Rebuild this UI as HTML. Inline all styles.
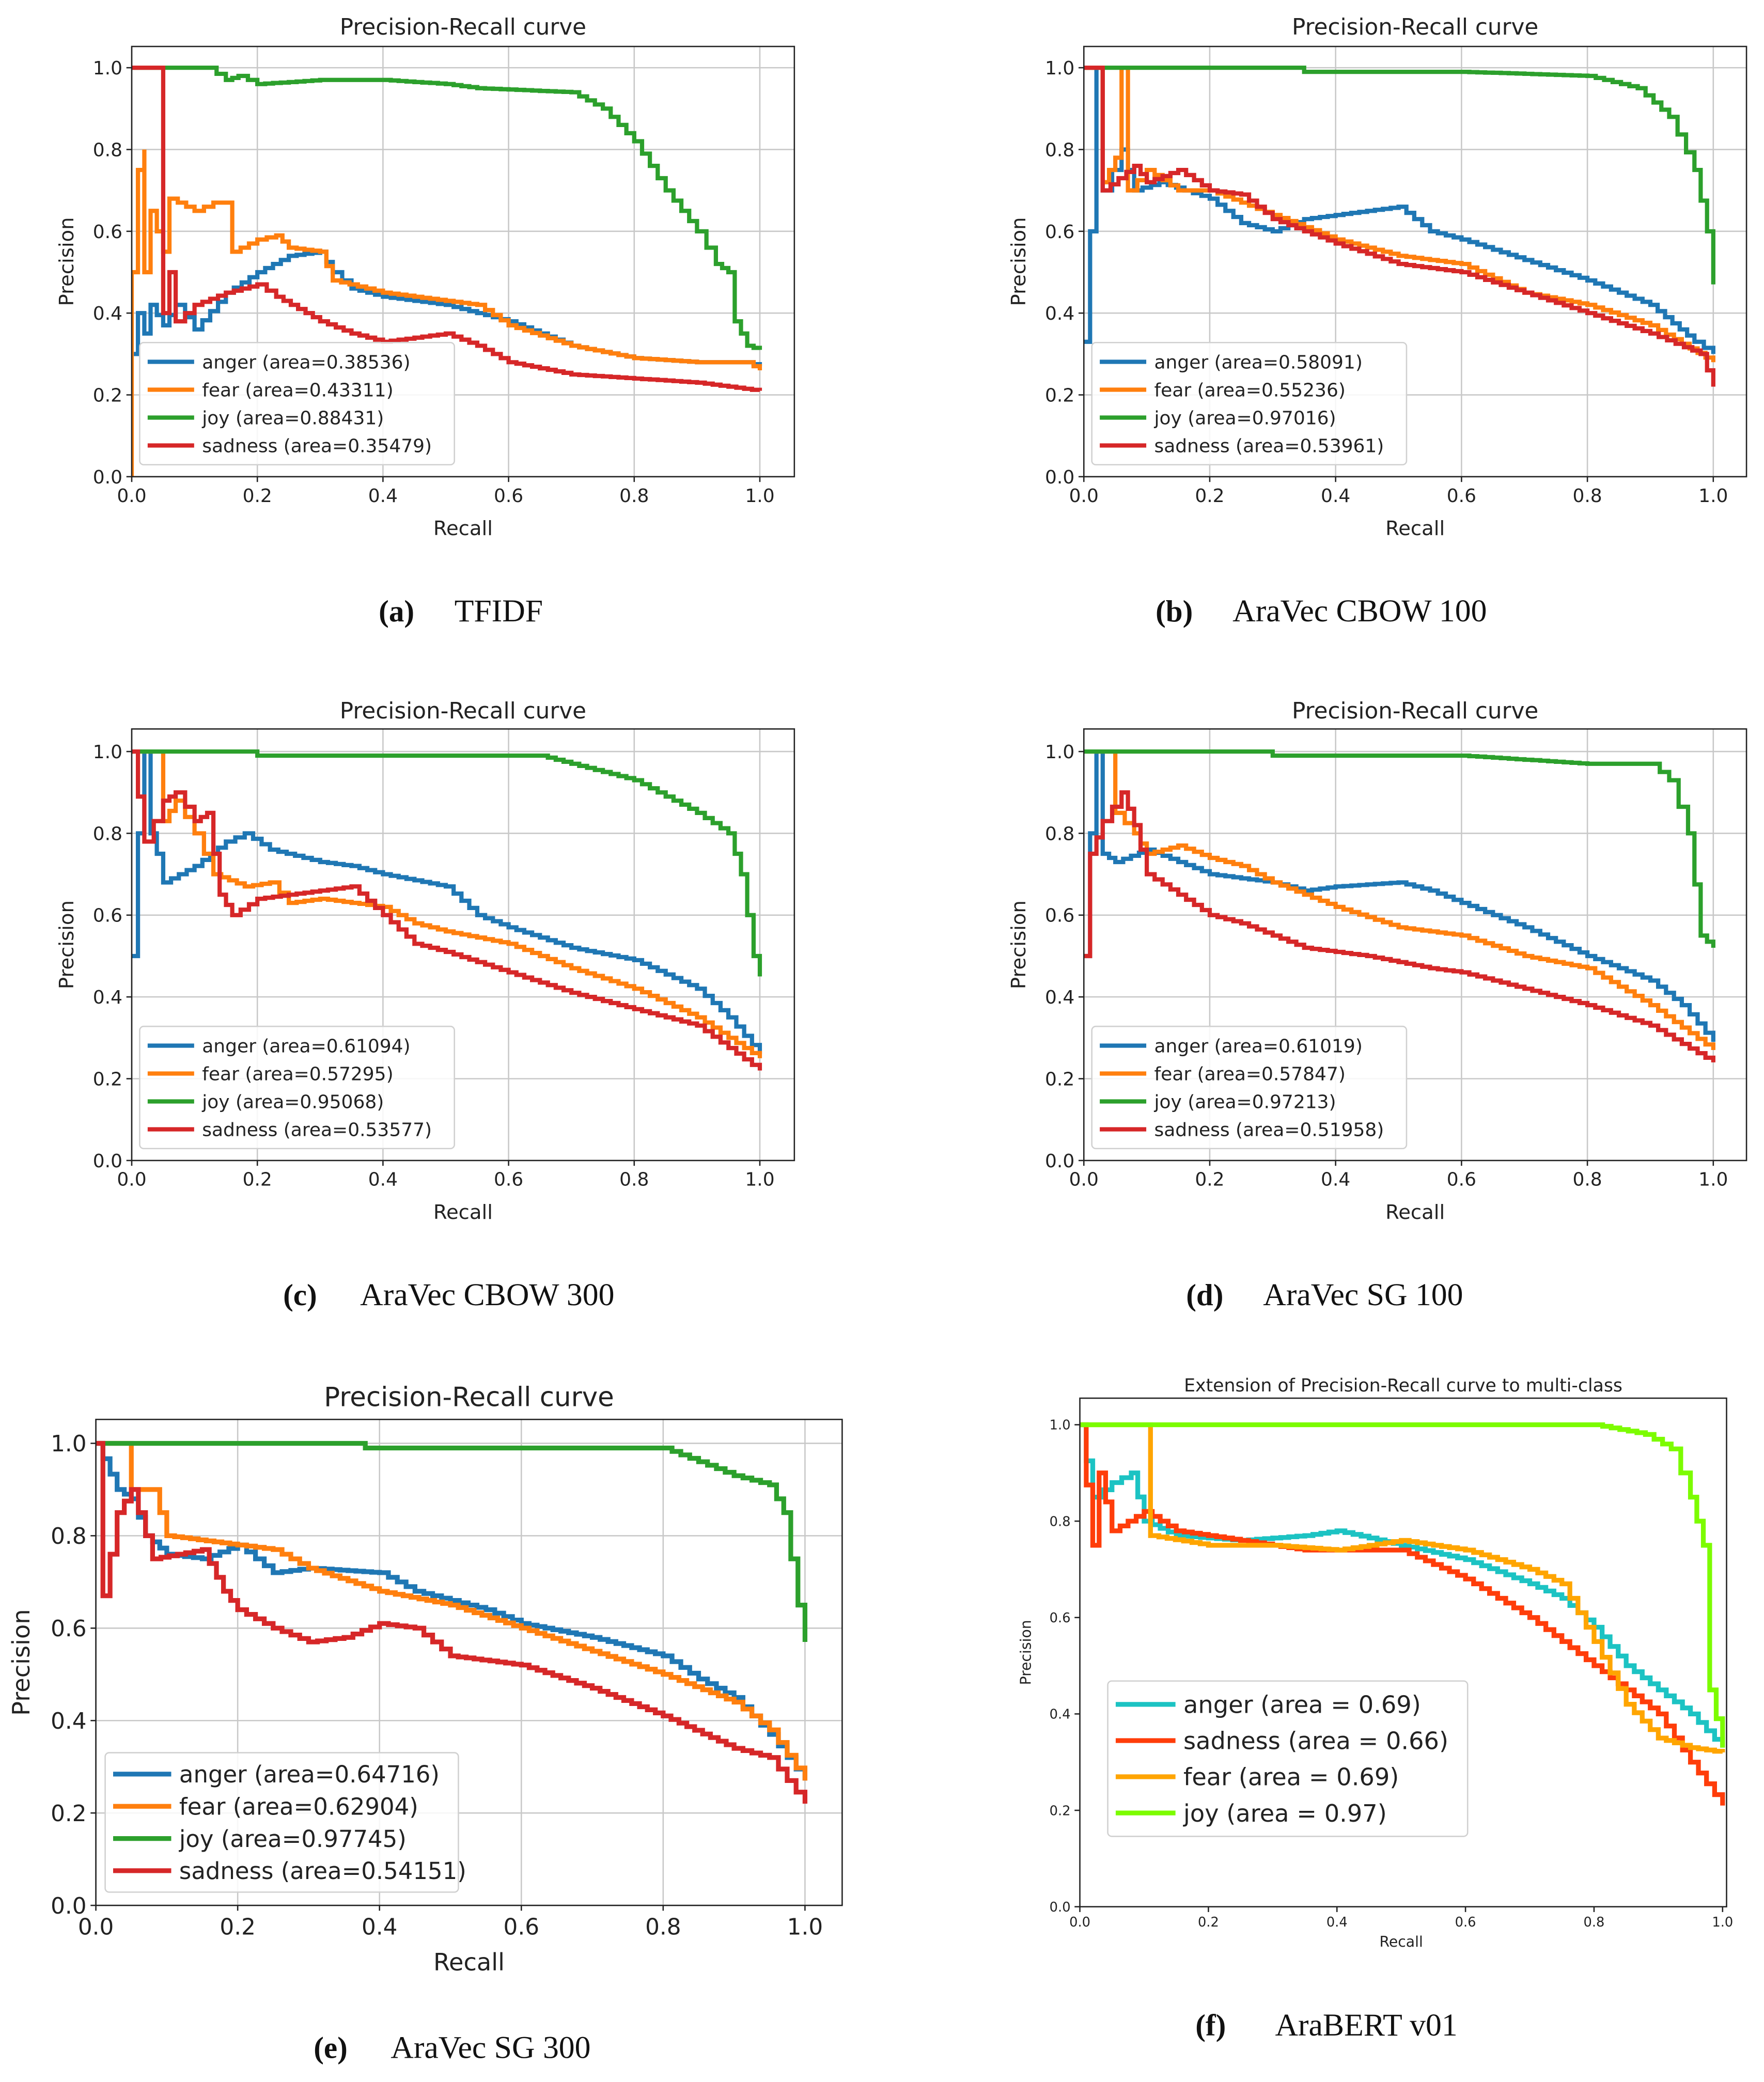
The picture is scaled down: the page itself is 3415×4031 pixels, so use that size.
<!DOCTYPE html>
<html><head><meta charset="utf-8"><style>
html,body{margin:0;padding:0;background:#fff;}
svg{display:block;}
</style></head><body>
<svg id="fig" width="3415" height="4031" viewBox="0 0 1328 1568" xmlns="http://www.w3.org/2000/svg"></svg>
<script>
// ---------- data (recall, precision pairs) ----------
const ticks = [0, 0.2, 0.4, 0.6, 0.8, 1.0];
const tickLabels = ["0.0","0.2","0.4","0.6","0.8","1.0"];

const aAnger = [[0,0.3],[0.01,0.4],[0.02,0.35],[0.03,0.42],[0.05,0.37],[0.07,0.42],[0.1,0.36],[0.15,0.45],[0.2,0.5],[0.25,0.54],[0.3,0.55],[0.32,0.5],[0.35,0.46],[0.4,0.44],[0.5,0.42],[0.6,0.38],[0.7,0.32],[0.8,0.29],[0.9,0.28],[0.98,0.28],[1.0,0.27]];
const aFear = [[0,0],[0,0.5],[0.01,0.75],[0.02,0.8],[0.02,0.5],[0.03,0.65],[0.05,0.55],[0.06,0.68],[0.1,0.65],[0.13,0.67],[0.16,0.67],[0.16,0.55],[0.2,0.58],[0.23,0.59],[0.25,0.56],[0.3,0.55],[0.32,0.48],[0.4,0.45],[0.5,0.43],[0.55,0.42],[0.6,0.37],[0.7,0.32],[0.8,0.29],[0.9,0.28],[0.98,0.28],[1.0,0.26]];
const aJoy = [[0,1],[0.12,1.0],[0.15,0.97],[0.17,0.98],[0.2,0.96],[0.3,0.97],[0.4,0.97],[0.5,0.96],[0.55,0.95],[0.7,0.94],[0.75,0.9],[0.8,0.82],[0.85,0.7],[0.9,0.6],[0.93,0.52],[0.95,0.5],[0.96,0.38],[0.98,0.32],[1.0,0.31]];
const aSad = [[0,1],[0.05,1.0],[0.05,0.4],[0.06,0.5],[0.07,0.38],[0.1,0.42],[0.15,0.45],[0.2,0.47],[0.23,0.44],[0.3,0.38],[0.35,0.35],[0.4,0.33],[0.5,0.35],[0.55,0.32],[0.6,0.28],[0.7,0.25],[0.8,0.24],[0.9,0.23],[1.0,0.21]];

const bAnger = [[0,0.33],[0.01,0.6],[0.02,1.0],[0.03,0.7],[0.06,0.8],[0.08,0.7],[0.12,0.72],[0.2,0.68],[0.25,0.62],[0.3,0.6],[0.35,0.63],[0.45,0.65],[0.5,0.66],[0.55,0.6],[0.6,0.58],[0.7,0.53],[0.8,0.48],[0.9,0.42],[0.97,0.33],[1.0,0.3]];
const bFear = [[0,1],[0.03,1],[0.03,0.72],[0.05,0.78],[0.06,1.0],[0.07,0.7],[0.1,0.75],[0.15,0.7],[0.2,0.7],[0.3,0.64],[0.4,0.58],[0.5,0.54],[0.6,0.52],[0.7,0.45],[0.8,0.42],[0.9,0.37],[1.0,0.28]];
const bJoy = [[0,1],[0.35,1.0],[0.35,0.99],[0.6,0.99],[0.8,0.98],[0.88,0.95],[0.93,0.88],[0.97,0.75],[0.99,0.6],[1.0,0.47]];
const bSad = [[0,1],[0.03,1],[0.03,0.7],[0.08,0.76],[0.1,0.72],[0.15,0.75],[0.2,0.7],[0.25,0.69],[0.3,0.63],[0.4,0.57],[0.5,0.52],[0.6,0.5],[0.7,0.45],[0.8,0.4],[0.9,0.35],[0.98,0.3],[1.0,0.22]];

const cAnger = [[0,0.5],[0.01,0.8],[0.02,1.0],[0.03,0.8],[0.04,0.75],[0.05,0.68],[0.1,0.72],[0.15,0.78],[0.18,0.8],[0.22,0.76],[0.3,0.73],[0.35,0.72],[0.4,0.7],[0.5,0.67],[0.55,0.6],[0.6,0.57],[0.7,0.52],[0.8,0.49],[0.9,0.42],[0.95,0.35],[1.0,0.26]];
const cFear = [[0,1],[0.05,1],[0.05,0.83],[0.07,0.88],[0.1,0.8],[0.13,0.7],[0.18,0.67],[0.22,0.68],[0.25,0.63],[0.3,0.64],[0.4,0.62],[0.45,0.58],[0.5,0.56],[0.6,0.53],[0.7,0.47],[0.8,0.42],[0.9,0.35],[1.0,0.25]];
const cJoy = [[0,1],[0.2,1],[0.2,0.99],[0.4,0.99],[0.65,0.99],[0.7,0.97],[0.8,0.93],[0.9,0.85],[0.95,0.8],[0.97,0.7],[0.99,0.5],[1.0,0.45]];
const cSad = [[0,1],[0.02,0.78],[0.05,0.88],[0.07,0.9],[0.1,0.83],[0.12,0.85],[0.14,0.65],[0.16,0.6],[0.2,0.64],[0.3,0.66],[0.35,0.67],[0.4,0.6],[0.45,0.53],[0.5,0.51],[0.6,0.46],[0.7,0.41],[0.8,0.37],[0.9,0.33],[1.0,0.22]];

const dAnger = [[0,0.5],[0.01,0.8],[0.02,1.0],[0.03,0.75],[0.05,0.73],[0.1,0.76],[0.15,0.73],[0.2,0.7],[0.3,0.68],[0.35,0.66],[0.4,0.67],[0.5,0.68],[0.55,0.66],[0.6,0.63],[0.7,0.57],[0.8,0.5],[0.9,0.44],[0.95,0.38],[1.0,0.29]];
const dFear = [[0,1],[0.05,1],[0.05,0.85],[0.08,0.8],[0.1,0.75],[0.15,0.77],[0.2,0.74],[0.25,0.72],[0.3,0.68],[0.35,0.65],[0.4,0.62],[0.5,0.57],[0.6,0.55],[0.7,0.5],[0.8,0.47],[0.9,0.38],[1.0,0.27]];
const dJoy = [[0,1],[0.3,1],[0.3,0.99],[0.6,0.99],[0.7,0.98],[0.8,0.97],[0.9,0.97],[0.93,0.93],[0.96,0.8],[0.98,0.55],[1.0,0.52]];
const dSad = [[0,0.5],[0.01,0.75],[0.03,0.83],[0.06,0.9],[0.08,0.82],[0.1,0.7],[0.15,0.65],[0.2,0.6],[0.25,0.58],[0.3,0.55],[0.35,0.52],[0.45,0.5],[0.55,0.47],[0.6,0.46],[0.7,0.42],[0.8,0.38],[0.9,0.33],[1.0,0.24]];

const eAnger = [[0,1],[0.03,0.9],[0.05,0.88],[0.07,0.8],[0.1,0.76],[0.15,0.75],[0.2,0.78],[0.25,0.72],[0.3,0.73],[0.4,0.72],[0.45,0.68],[0.5,0.66],[0.55,0.64],[0.6,0.61],[0.7,0.58],[0.8,0.54],[0.85,0.49],[0.9,0.45],[0.95,0.37],[1.0,0.27]];
const eFear = [[0,1],[0.05,1],[0.05,0.9],[0.08,0.9],[0.1,0.8],[0.2,0.78],[0.25,0.77],[0.3,0.73],[0.4,0.68],[0.5,0.65],[0.6,0.6],[0.7,0.55],[0.8,0.5],[0.9,0.44],[0.95,0.38],[1.0,0.27]];
const eJoy = [[0,1],[0.38,1],[0.38,0.99],[0.6,0.99],[0.8,0.99],[0.85,0.96],[0.9,0.93],[0.95,0.91],[0.97,0.85],[0.99,0.65],[1.0,0.57]];
const eSad = [[0,1],[0.01,0.67],[0.03,0.85],[0.05,0.9],[0.08,0.75],[0.15,0.77],[0.18,0.68],[0.2,0.64],[0.25,0.6],[0.3,0.57],[0.35,0.58],[0.4,0.61],[0.45,0.6],[0.5,0.54],[0.6,0.52],[0.7,0.47],[0.8,0.41],[0.9,0.34],[0.95,0.32],[1.0,0.22]];

const fAnger = [[0,1],[0.02,0.85],[0.05,0.88],[0.08,0.9],[0.1,0.8],[0.15,0.77],[0.25,0.76],[0.35,0.77],[0.4,0.78],[0.5,0.75],[0.6,0.72],[0.7,0.67],[0.75,0.64],[0.8,0.58],[0.85,0.5],[0.9,0.45],[0.95,0.4],[1.0,0.33]];
const fSad = [[0,1],[0.02,0.75],[0.03,0.9],[0.05,0.78],[0.1,0.82],[0.15,0.78],[0.25,0.76],[0.35,0.74],[0.5,0.74],[0.6,0.68],[0.7,0.6],[0.8,0.5],[0.9,0.4],[0.95,0.3],[1.0,0.21]];
const fFear = [[0,1],[0.11,1],[0.11,0.77],[0.2,0.75],[0.3,0.75],[0.4,0.74],[0.5,0.76],[0.6,0.74],[0.7,0.7],[0.75,0.67],[0.8,0.55],[0.85,0.42],[0.9,0.35],[0.95,0.33],[1.0,0.32]];
const fJoy = [[0,1],[0.75,1],[0.8,1.0],[0.88,0.98],[0.92,0.95],[0.95,0.85],[0.97,0.75],[0.98,0.6],[0.98,0.45],[1.0,0.33]];

const legA = ["anger (area=0.38536)","fear (area=0.43311)","joy (area=0.88431)","sadness (area=0.35479)"];
const legB = ["anger (area=0.58091)","fear (area=0.55236)","joy (area=0.97016)","sadness (area=0.53961)"];
const legC = ["anger (area=0.61094)","fear (area=0.57295)","joy (area=0.95068)","sadness (area=0.53577)"];
const legD = ["anger (area=0.61019)","fear (area=0.57847)","joy (area=0.97213)","sadness (area=0.51958)"];
const legE = ["anger (area=0.64716)","fear (area=0.62904)","joy (area=0.97745)","sadness (area=0.54151)"];
const legF = ["anger (area = 0.69)","sadness (area = 0.66)","fear (area = 0.69)","joy (area = 0.97)"];

// ---------- rendering ----------
const NS = "http://www.w3.org/2000/svg";
const svg = document.getElementById("fig");
const FONT = "'DejaVu Sans','Liberation Sans',sans-serif";
function mk(tag, attrs, parent, text){
  const e = document.createElementNS(NS, tag);
  for (const k in attrs) e.setAttribute(k, attrs[k]);
  if (text !== undefined) e.textContent = text;
  (parent || svg).appendChild(e);
  return e;
}
const MPL = ["#1f77b4","#ff7f0e","#2ca02c","#d62728"];
const FCOL = ["#1cc3c3","#ff3d0a","#ffa500","#7cfc00"];

const panels = [
  {id:"a", x0:99, x1:572, bx:[99,598], y0:359, y1:51, by:[35,359], series:[aAnger,aFear,aJoy,aSad], cols:MPL, leg:legA, legBox:[105,258,237,92], fs:14, lfs:14, grid:true, title:"Precision-Recall curve", tfs:17, titleY:26, recallY:403, precX:55, capY:468, capL:"(a)", capT:"TFIDF", capX:[285,342], lw:3.2},
  {id:"b", x0:816, x1:1290, bx:[816,1315], y0:359, y1:51, by:[35,359], series:[bAnger,bFear,bJoy,bSad], cols:MPL, leg:legB, legBox:[822,258,237,92], fs:14, lfs:14, grid:true, title:"Precision-Recall curve", tfs:17, titleY:26, recallY:403, precX:772, capY:468, capL:"(b)", capT:"AraVec CBOW 100", capX:[870,928], lw:3.2},
  {id:"c", x0:99, x1:572, bx:[99,598], y0:874, y1:566, by:[549,874], series:[cAnger,cFear,cJoy,cSad], cols:MPL, leg:legC, legBox:[105,773,237,92], fs:14, lfs:14, grid:true, title:"Precision-Recall curve", tfs:17, titleY:541, recallY:918, precX:55, capY:983, capL:"(c)", capT:"AraVec CBOW 300", capX:[213,271], lw:3.2},
  {id:"d", x0:816, x1:1290, bx:[816,1315], y0:874, y1:566, by:[549,874], series:[dAnger,dFear,dJoy,dSad], cols:MPL, leg:legD, legBox:[822,773,237,92], fs:14, lfs:14, grid:true, title:"Precision-Recall curve", tfs:17, titleY:541, recallY:918, precX:772, capY:983, capL:"(d)", capT:"AraVec SG 100", capX:[893,951], lw:3.2},
  {id:"e", x0:72, x1:606, bx:[72,634], y0:1435, y1:1087, by:[1069,1435], series:[eAnger,eFear,eJoy,eSad], cols:MPL, leg:legE, legBox:[79,1320,266,105], fs:17, lfs:17.5, grid:true, title:"Precision-Recall curve", tfs:20, titleY:1059, recallY:1484, precX:22, capY:1550, capL:"(e)", capT:"AraVec SG 300", capX:[236,294], lw:3.6},
  {id:"f", x0:813, x1:1297, bx:[813,1300], y0:1436, y1:1073, by:[1053,1436], series:[fAnger,fSad,fFear,fJoy], cols:FCOL, leg:legF, legBox:[834,1266,271,117], fs:10, lfs:18, grid:false, title:"Extension of Precision-Recall curve to multi-class", tfs:13.5, titleY:1048, recallY:1466, precX:776, capY:1533, capL:"(f)", capT:"AraBERT v01", capX:[900,960], lw:3.6}
];

panels.forEach(p => {
  const g = mk("g", {}, svg);
  
  
  const sx = v => p.x0 + v * (p.x1 - p.x0);
  const sy = v => p.y0 + v * (p.y1 - p.y0);
  const clipId = "clip-" + p.id;
  const cp = mk("clipPath", {id: clipId}, g);
  mk("rect", {x:p.bx[0], y:p.by[0], width:p.bx[1]-p.bx[0], height:p.by[1]-p.by[0]}, cp);

  if (p.grid) {
    ticks.forEach(t => {
      const gl = mk("line", {x1:sx(t), x2:sx(t), y1:p.by[0], y2:p.by[1], stroke:"#c8c8c8", "stroke-width":1}, g);
      
      
      const gh = mk("line", {x1:p.bx[0], x2:p.bx[1], y1:sy(t), y2:sy(t), stroke:"#c8c8c8", "stroke-width":1}, g);
      
      
    });
  }
  ticks.forEach((t, i) => {
    mk("line", {x1:sx(t), x2:sx(t), y1:p.by[1], y2:p.by[1]+4, stroke:"#222", "stroke-width":1}, g);
    mk("line", {x1:p.bx[0]-4, x2:p.bx[0], y1:sy(t), y2:sy(t), stroke:"#222", "stroke-width":1}, g);
    const xl = mk("text", {x:sx(t), y:p.by[1]+5+p.fs, "font-size":p.fs, "font-family":FONT, "text-anchor":"middle", fill:"#222"}, g, tickLabels[i]);
    
    
    const yl = mk("text", {x:p.bx[0]-7, y:sy(t)+p.fs*0.36, "font-size":p.fs, "font-family":FONT, "text-anchor":"end", fill:"#222"}, g, tickLabels[i]);
    
    
  });
  // series drawn as stepped curves
  const sg = mk("g", {"clip-path":"url(#"+clipId+")"}, g);
  p.series.forEach((s, k) => {
    let d = "M" + sx(s[0][0]).toFixed(1) + "," + sy(s[0][1]).toFixed(1);
    for (let i = 1; i < s.length; i++) {
      const px = sx(s[i-1][0]), py = sy(s[i-1][1]);
      const nx = sx(s[i][0]), ny = sy(s[i][1]);
      const dx = nx - px;
      const n = Math.max(1, Math.round(Math.abs(dx) / 6));
      for (let j = 1; j <= n; j++) {
        const xx = px + dx * j / n, yy = py + (ny - py) * j / n;
        d += " H" + xx.toFixed(1) + " V" + yy.toFixed(1);
      }
    }
    const pl = mk("path", {d:d, fill:"none", stroke:p.cols[k], "stroke-width":p.lw, "stroke-linejoin":"miter"}, sg);
    
    
  });
  const fr = mk("rect", {x:p.bx[0], y:p.by[0], width:p.bx[1]-p.bx[0], height:p.by[1]-p.by[0], fill:"none", stroke:"#222", "stroke-width":1}, g);
  
  
  const tt = mk("text", {x:(p.bx[0]+p.bx[1])/2, y:p.titleY, "font-size":p.tfs, "font-family":FONT, "text-anchor":"middle", fill:"#222"}, g, p.title);
  
  
  const rfs = p.id==="f" ? 11 : p.fs + 1;
  const rx = mk("text", {x:p.id==="f"?1055:(p.bx[0]+p.bx[1])/2, y:p.recallY, "font-size":rfs, "font-family":FONT, "text-anchor":"middle", fill:"#222"}, g, "Recall");
  
  
  const cy = (p.by[0]+p.by[1])/2;
  const py = mk("text", {x:p.precX, y:cy, "font-size":rfs, "font-family":FONT, "text-anchor":"middle", fill:"#222", transform:"rotate(-90 "+p.precX+" "+cy+")"}, g, "Precision");
  
  
  const lb = p.legBox;
  const lg = mk("g", {}, g);
  
  
  mk("rect", {x:lb[0], y:lb[1], width:lb[2], height:lb[3], rx:3, fill:"#fff", "fill-opacity":0.85, stroke:"#d0d0d0", "stroke-width":1}, lg);
  const rowH = (lb[3]-8)/4;
  p.leg.forEach((name, k) => {
    const yy = lb[1] + 4 + rowH*(k+0.5);
    const ln = mk("line", {x1:lb[0]+6, x2:lb[0]+6+p.lfs*2.5, y1:yy, y2:yy, stroke:p.cols[k], "stroke-width":p.lw}, lg);
    
    
    const lt = mk("text", {x:lb[0]+12+p.lfs*2.5, y:yy+p.lfs*0.36, "font-size":p.lfs, "font-family":FONT, fill:"#222"}, lg, name);
    
    
  });
  const cl = mk("text", {x:p.capX[0], y:p.capY, "font-size":23, "font-weight":"bold", "font-family":"'Liberation Serif',serif", fill:"#111"}, g, p.capL);
  
  
  const ct = mk("text", {x:p.capX[1], y:p.capY, "font-size":24, "font-family":"'Liberation Serif',serif", fill:"#111"}, g, p.capT);
  
  
});
</script>
</body></html>
